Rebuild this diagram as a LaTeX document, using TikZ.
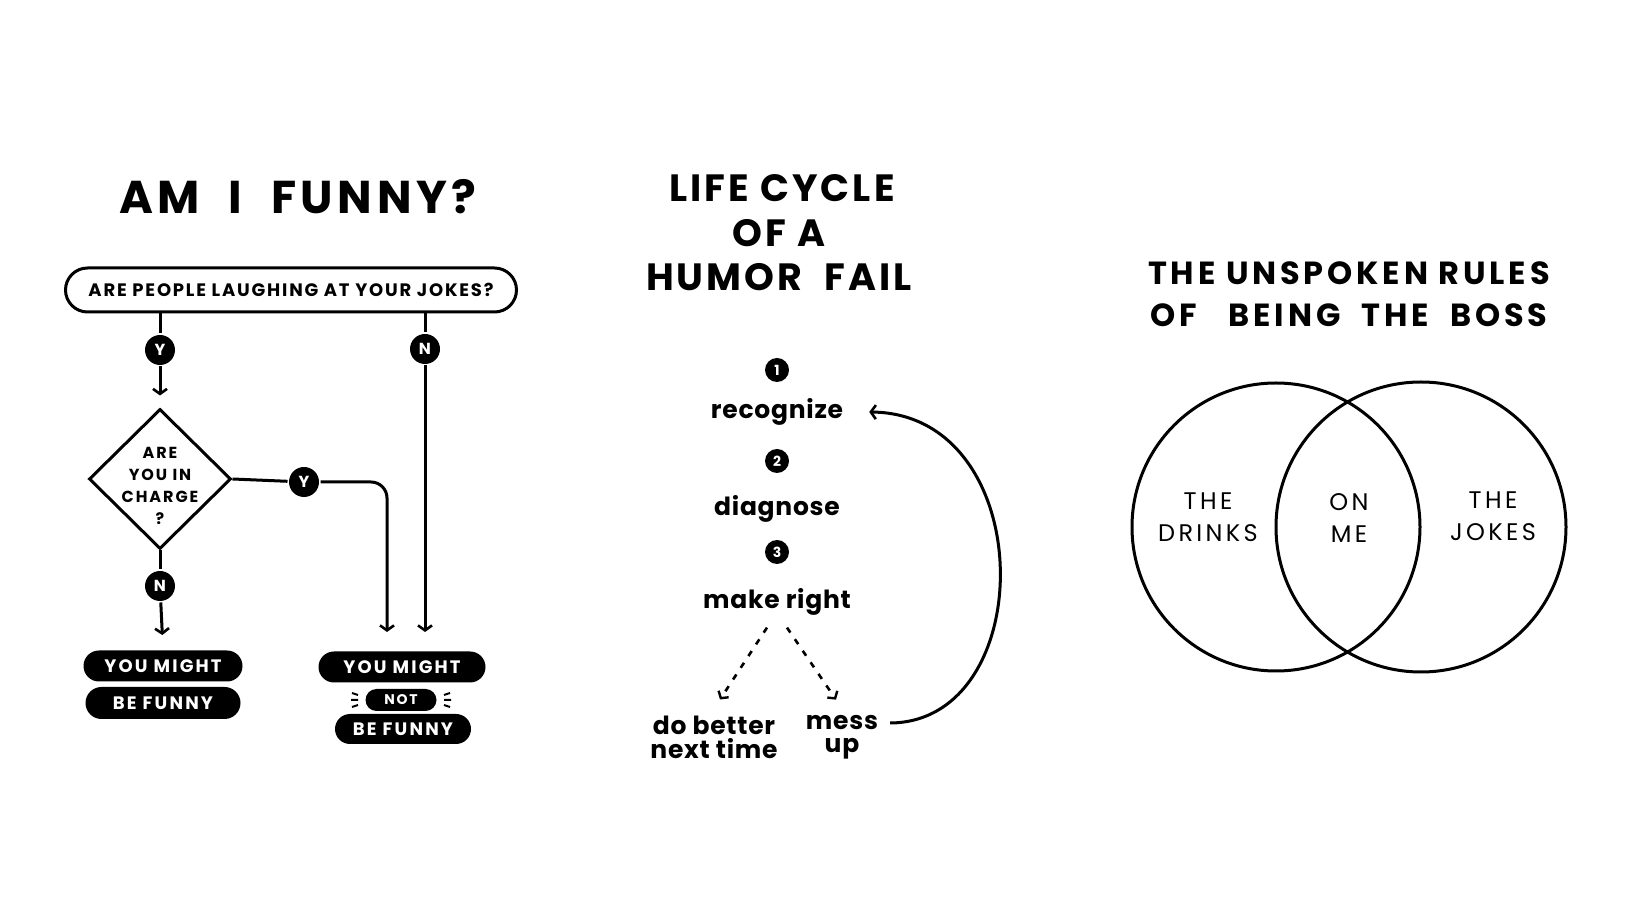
\documentclass[tikz,border=0pt]{standalone}
\usepackage{fontspec}
\setmainfont{Poppins}
\usetikzlibrary{shapes.misc,shapes.geometric,arrows.meta}
\begin{document}
\begin{tikzpicture}[x=0.5pt,y=-0.5pt,line width=1.5pt,
  barb/.style={-{Straight Barb[length=2.5pt,width=7pt,line width=1.3pt]}},
  yn/.style={circle,fill=black,text=white,minimum size=15pt,inner sep=0pt,font=\bfseries\fontsize{8}{8}\selectfont},
  num/.style={circle,fill=black,text=white,minimum size=12pt,inner sep=0pt,font=\bfseries\fontsize{7}{7}\selectfont},
  pill/.style={rounded rectangle,fill=black,text=white,inner sep=0pt,font=\bfseries\fontsize{9}{9}\selectfont\addfontfeature{LetterSpace=12}},
  small/.style={font=\bfseries\fontsize{9}{9}\selectfont\addfontfeature{LetterSpace=10}},
  lower/.style={font=\bfseries\fontsize{12.5}{12.5}\selectfont\addfontfeature{LetterSpace=3}},
  venn/.style={font=\fontsize{12}{16}\selectfont\addfontfeature{LetterSpace=14},align=center},
  darr/.style={-{Straight Barb[length=2.5pt,width=6pt,line width=1.2pt]},dash pattern=on 3pt off 4pt,line width=1.3pt}]
\useasboundingbox (0,0) rectangle (1640,924);

% ---------- left: AM I FUNNY? ----------
\node[font=\bfseries\fontsize{23}{23}\selectfont\addfontfeature{LetterSpace=10}] (t1) at (298,197) {AM\ \ I\ \ FUNNY?};
\node[draw,rounded rectangle,minimum width=225.5pt,minimum height=22pt,inner sep=0pt,small] (q1) at (291,290) {ARE PEOPLE LAUGHING AT YOUR JOKES?};
\node[yn] (y1) at (160,350) {Y};
\node[yn] (n1) at (425,349) {N};
\node[diamond,draw,minimum width=71pt,minimum height=70pt,inner sep=0pt] (dia) at (160,479) {};
\node[align=center,font=\bfseries\fontsize{8}{11}\selectfont\addfontfeature{LetterSpace=12}] (diat) at (160,486) {ARE\\YOU IN\\CHARGE\\?};
\node[yn] (y2) at (304,482) {Y};
\node[yn] (n2) at (160,586) {N};
\node[pill,minimum width=79.5pt,minimum height=15.5pt] (ml1) at (163,666) {YOU MIGHT};
\node[pill,minimum width=77.5pt,minimum height=16pt] (ml2) at (163,703) {BE FUNNY};
\node[pill,minimum width=83.5pt,minimum height=15.5pt] (mr1) at (402,667) {YOU MIGHT};
\node[pill,minimum width=35.5pt,minimum height=11pt,font=\bfseries\fontsize{7}{7}\selectfont\addfontfeature{LetterSpace=12}] (mr2) at (401,700) {NOT};
\node[pill,minimum width=68pt,minimum height=15pt] (mr3) at (403,729) {BE FUNNY};
\coordinate (e2) at (387,632);
\coordinate (e3) at (425,632);

\draw (q1.south -| y1) -- (y1);
\draw[barb,shorten >=6pt] (y1) -- (dia.north);
\draw (q1.south -| n1) -- (n1);
\draw[barb] (n1) -- (e3);
\draw (dia.east) -- (y2);
\draw[barb,rounded corners=8pt] (y2) -| (e2);
\draw (dia.south) -- (n2);
\draw[barb,shorten >=7pt] (n2) -- (ml1.north);
\draw[line width=1pt] ([xshift=-3pt,yshift=2.5pt]mr2.west) -- ++(-6,-2)
  ([xshift=-3pt]mr2.west) -- ++(-7,0)
  ([xshift=-3pt,yshift=-2.5pt]mr2.west) -- ++(-6,2)
  ([xshift=3pt,yshift=2.5pt]mr2.east) -- ++(6,-2)
  ([xshift=3pt]mr2.east) -- ++(7,0)
  ([xshift=3pt,yshift=-2.5pt]mr2.east) -- ++(6,2);

% ---------- middle: life cycle ----------
\node[font=\bfseries\fontsize{19}{19}\selectfont\addfontfeature{LetterSpace=8}] (t2a) at (782,188) {LIFE CYCLE};
\node[font=\bfseries\fontsize{19}{19}\selectfont\addfontfeature{LetterSpace=8}] (t2b) at (779,233) {OF A};
\node[font=\bfseries\fontsize{19}{19}\selectfont\addfontfeature{LetterSpace=8}] (t2c) at (779,277) {HUMOR\ \ FAIL};
\node[num] (c1) at (777,370) {1};
\node[lower] (rec) at (777,412) {recognize};
\node[num] (c2) at (777,461) {2};
\node[lower] (dia2) at (777,509) {diagnose};
\node[num] (c3) at (777,552) {3};
\node[lower] (mkr) at (777,602) {make right};
\node[lower] (db1) at (714,725) {do better};
\node[lower] (db2) at (714,749) {next time};
\node[lower] (ms1) at (842,723) {mess};
\node[lower] (ms2) at (842,749) {up};
\draw[darr] ([xshift=-5pt,yshift=-2pt]mkr.south) -- ([xshift=3pt,yshift=4pt]db1.north);
\draw[darr] ([xshift=5pt,yshift=-2pt]mkr.south) -- ([xshift=-3pt,yshift=4pt]ms1.north);
\coordinate (rin) at ([xshift=9pt]rec.east);
\draw[barb] ([xshift=2pt]ms1.east) .. controls (1040,722) and (1040,414) .. (rin);

% ---------- right: venn ----------
\node[font=\bfseries\fontsize{16}{16}\selectfont\addfontfeature{LetterSpace=12}] (t3a) at (1349,273) {THE\ UNSPOKEN\ RULES};
\node[font=\bfseries\fontsize{16}{16}\selectfont\addfontfeature{LetterSpace=12}] (t3b) at (1349,315) {OF\ \ \ BEING\ \ THE\ \ BOSS};
\node[circle,draw,minimum size=144pt,inner sep=0pt] (cl) at (1276,527) {};
\node[circle,draw,minimum size=145pt,inner sep=0pt] (cr) at (1421,527) {};
\node[venn] (vl) at (1208,517) {THE\\DRINKS};
\node[venn] (vm) at (1349,518) {ON\\ME};
\node[venn] (vr) at (1493,516) {THE\\JOKES};
\end{tikzpicture}
\end{document}
